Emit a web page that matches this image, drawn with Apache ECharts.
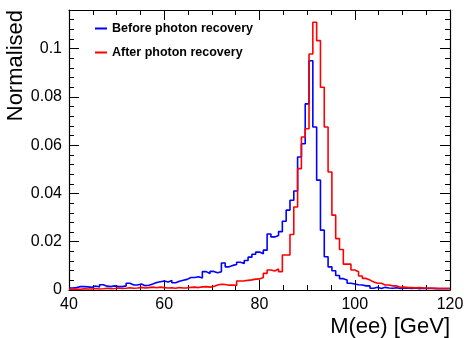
<!DOCTYPE html>
<html>
<head>
<meta charset="utf-8">
<script src="https://cdn.jsdelivr.net/npm/echarts@6/dist/echarts.min.js"></script>
<style>
html,body{margin:0;padding:0;background:#fff;}
#chart{width:467px;height:338px;}
</style>
</head>
<body>
<div id="chart"></div>
<script>
// Histogram binning: 100 bins of 0.8 GeV from 40 to 120 GeV
const binStart = 40;
const binWidth = 0.8;
const seriesNames = ['Before photon recovery', 'After photon recovery'];
const xTickLabels = [40, 60, 80, 100, 120];
const yTickLabels = [0, 0.02, 0.04, 0.06, 0.08, 0.1];

const beforeRecovery = [
  0.0008, 0.0010, 0.0014, 0.0014, 0.0013, 0.0011, 0.0017, 0.0012, 0.0022, 0.0016,
  0.0014, 0.0017, 0.0014, 0.0014, 0.0017, 0.0028, 0.0021, 0.0021, 0.0025, 0.0018,
  0.0020, 0.0025, 0.0031, 0.0034, 0.0037, 0.0033, 0.0039, 0.0030, 0.0036, 0.0040,
  0.0044, 0.0052, 0.0052, 0.0055, 0.0050, 0.0076, 0.0068, 0.0077, 0.0071, 0.0076,
  0.0112, 0.0096, 0.0102, 0.0106, 0.0115, 0.0110, 0.0122, 0.0136, 0.0148, 0.0157,
  0.0150, 0.0165, 0.0232, 0.0220, 0.0226, 0.0242, 0.0285, 0.0331, 0.0372, 0.0410,
  0.0551, 0.0606, 0.0771, 0.0950, 0.0675, 0.0455, 0.0248, 0.0138, 0.0096, 0.0080,
  0.0060, 0.0047, 0.0041, 0.0028, 0.0025, 0.0022, 0.0021, 0.0017, 0.0017, 0.0007,
  0.0011, 0.0006, 0.0011, 0.0008, 0.0007, 0.0009, 0.0006, 0.0008, 0.0007, 0.0006,
  0.0008, 0.0005, 0.0007, 0.0006, 0.0007, 0.0005, 0.0006, 0.0005, 0.0006, 0.0005
];

const afterRecovery = [
  0.0003, 0.0004, 0.0003, 0.0005, 0.0004, 0.0004, 0.0006, 0.0004, 0.0005, 0.0007,
  0.0005, 0.0006, 0.0008, 0.0006, 0.0007, 0.0009, 0.0007, 0.0008, 0.0011, 0.0008,
  0.0010, 0.0012, 0.0009, 0.0012, 0.0010, 0.0008, 0.0009, 0.0007, 0.0010, 0.0008,
  0.0009, 0.0011, 0.0012, 0.0010, 0.0013, 0.0014, 0.0012, 0.0015, 0.0021, 0.0024,
  0.0023, 0.0020, 0.0021, 0.0019, 0.0037, 0.0038, 0.0040, 0.0042, 0.0045, 0.0046,
  0.0052, 0.0069, 0.0083, 0.0079, 0.0087, 0.0076, 0.0145, 0.0145, 0.0230, 0.0344,
  0.0503, 0.0634, 0.0668, 0.0978, 0.1109, 0.1033, 0.0840, 0.0675, 0.0489, 0.0310,
  0.0213, 0.0168, 0.0107, 0.0107, 0.0083, 0.0076, 0.0058, 0.0048, 0.0041, 0.0033,
  0.0028, 0.0028, 0.0021, 0.0021, 0.0017, 0.0017, 0.0011, 0.0012, 0.0010, 0.0010,
  0.0009, 0.0010, 0.0008, 0.0008, 0.0007, 0.0008, 0.0006, 0.0007, 0.0006, 0.0007
];

function toSteps(values) {
  const pts = values.map((v, i) => [+(binStart + i * binWidth).toFixed(4), v]);
  pts.push([+(binStart + values.length * binWidth).toFixed(4), values[values.length - 1]]);
  return pts;
}

const FONT = 'Liberation Sans, Arial, Helvetica, sans-serif';
const xMin = xTickLabels[0], xMax = xTickLabels[xTickLabels.length - 1];
const xInterval = xTickLabels[1] - xTickLabels[0];
const yInterval = yTickLabels[1] - yTickLabels[0];
const yMax = 0.116;

const chart = echarts.init(document.getElementById('chart'), null, {renderer: 'canvas'});

const axisLineStyle = {color: '#000', width: 1.2};
const baseX = {
  type: 'value', min: xMin, max: xMax, interval: xInterval,
  axisLine: {show: true, onZero: false, lineStyle: axisLineStyle},
  axisTick: {show: true, inside: true, length: 10, lineStyle: {color: '#000', width: 1}},
  minorTick: {show: true, splitNumber: 4, length: 5, lineStyle: {color: '#000', width: 1}},
  splitLine: {show: false}
};
const baseY = {
  type: 'value', min: 0, max: yMax, interval: yInterval,
  axisLine: {show: true, onZero: false, lineStyle: axisLineStyle},
  axisTick: {show: true, inside: true, length: 10, lineStyle: {color: '#000', width: 1}},
  minorTick: {show: true, splitNumber: 5, length: 5, lineStyle: {color: '#000', width: 1}},
  splitLine: {show: false}
};

chart.setOption({
  animation: false,
  backgroundColor: '#fff',
  grid: {left: 69, right: 17, top: 10, bottom: 48, containLabel: false},
  legend: {
    data: seriesNames,
    orient: 'vertical',
    left: 95, top: 21, padding: 0,
    icon: 'rect',
    itemWidth: 12, itemHeight: 2, itemGap: 9,
    textStyle: {fontFamily: FONT, fontWeight: 'bold', fontSize: 12.5, color: '#000', lineHeight: 15}
  },
  xAxis: [
    Object.assign({}, baseX, {
      position: 'bottom',
      axisLabel: {show: true, margin: 7, fontFamily: FONT, fontSize: 16, color: '#000'}
    }),
    Object.assign({}, baseX, {position: 'top', axisLabel: {show: false}})
  ],
  yAxis: [
    Object.assign({}, baseY, {
      position: 'left',
      axisLabel: {show: true, margin: 7, fontFamily: FONT, fontSize: 16, color: '#000', showMaxLabel: false}
    }),
    Object.assign({}, baseY, {position: 'right', axisLabel: {show: false}})
  ],
  graphic: [
    {type: 'text', x: 27, y: 10, rotation: Math.PI / 2,
     style: {text: 'Normalised', font: '22px ' + FONT, fill: '#000', align: 'right', verticalAlign: 'bottom'}},
    {type: 'text', x: 450, y: 327,
     style: {text: 'M(ee) [GeV]', font: '22px ' + FONT, fill: '#000', align: 'right', verticalAlign: 'middle'}}
  ],
  series: [
    {
      name: seriesNames[0], type: 'line', step: 'end', symbol: 'none',
      xAxisIndex: 0, yAxisIndex: 0,
      lineStyle: {color: '#0000ff', width: 1.6}, itemStyle: {color: '#0000ff'},
      data: toSteps(beforeRecovery)
    },
    {
      name: seriesNames[1], type: 'line', step: 'end', symbol: 'none',
      xAxisIndex: 0, yAxisIndex: 0,
      lineStyle: {color: '#ff0000', width: 1.6}, itemStyle: {color: '#ff0000'},
      data: toSteps(afterRecovery)
    }
  ]
});
</script>
</body>
</html>
